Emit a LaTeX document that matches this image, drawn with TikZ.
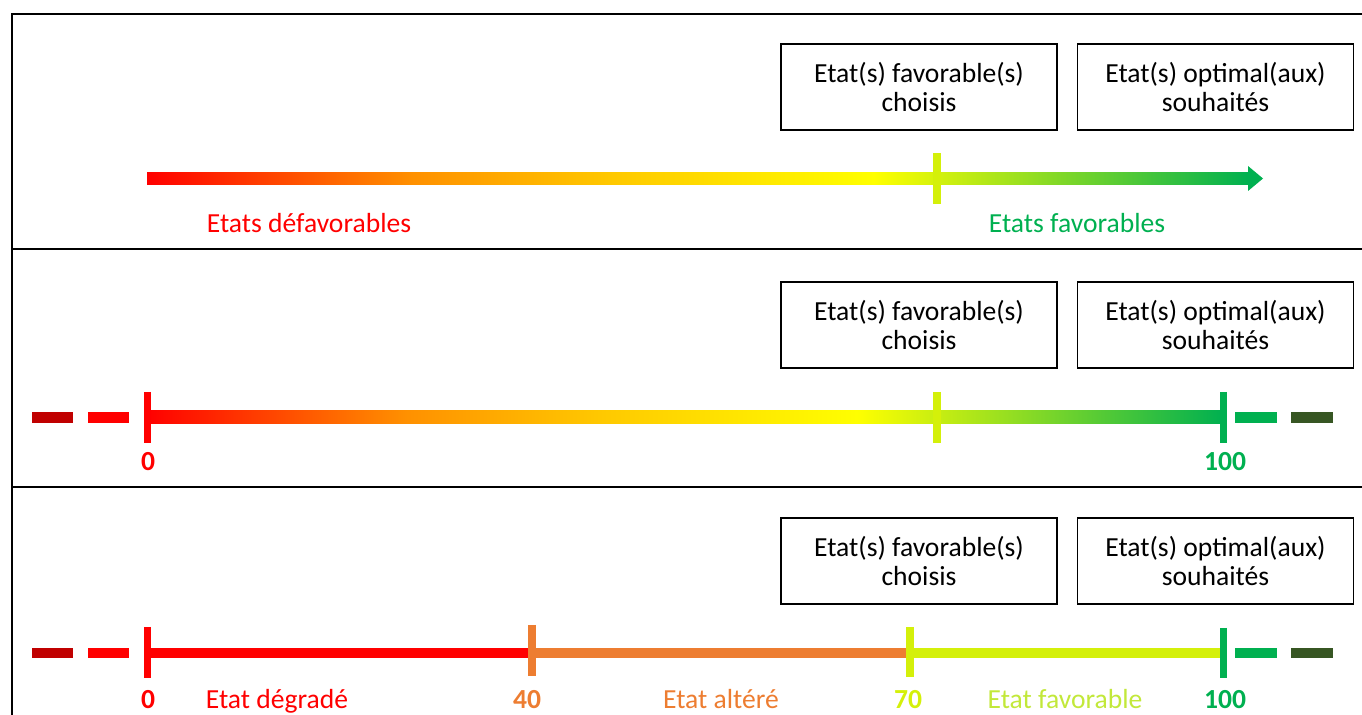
\documentclass[tikz,border=0pt]{standalone}
\usepackage{fontspec}
\setmainfont{Carlito}
\definecolor{vert}{HTML}{00B050}
\definecolor{vertfonce}{HTML}{375623}
\definecolor{rougefonce}{HTML}{C00000}
\definecolor{orangeetat}{HTML}{ED7D31}
\definecolor{jaunevert}{HTML}{D4F00A}
\definecolor{jaunevertclair}{HTML}{C2E83A}
\definecolor{orangeclair}{HTML}{FF9000}
\definecolor{jauneor}{HTML}{FFC800}
\pgfdeclarehorizontalshading{etatshade}{100bp}{color(0bp)=(red); color(25bp)=(red); color(37bp)=(orangeclair); color(46bp)=(jauneor); color(58bp)=(yellow); color(75bp)=(vert); color(100bp)=(vert)}
\tikzset{
  cadre/.style={line width=1.4pt},
  boite/.style={draw, line width=1pt, minimum width=5.52cm, minimum height=1.72cm, align=center},
  grad/.style={line width=4pt},
  tiret/.style={line width=6.2pt},
  ligne/.style={line width=5.7pt},
  etiq/.style={anchor=base, inner sep=0pt},
  nombre/.style={etiq, font=\fontsize{15.7}{17}\selectfont\bfseries}
}
\begin{document}
\begin{tikzpicture}[x=0.02cm, y=-0.02cm, font=\fontsize{15.7}{17}\selectfont]
		\useasboundingbox (0,0) rectangle (1362,715);
		\draw[cadre] (12,715) -- (12,14) -- (1362,14);
		\draw[cadre] (12,249) -- (1362,249);
		\draw[cadre] (12,487) -- (1362,487);
		\foreach \y/\n in {87/a, 325/b, 561/c} {
			\node[boite] (fav\n) at (919,\y) {Etat(s) favorable(s)\\choisis};
			\node[boite] (opt\n) at (1215.5,\y) {Etat(s) optimal(aux)\\souhaités};
		}
		% premiere ligne
		\shade[shading=etatshade] (147,172.5) rectangle (1248,185);
		\fill[vert] (1248,166) -- (1263,178.5) -- (1248,191) -- cycle;
		\draw[grad, jaunevert] (937,153) -- (937,204);
		\node[etiq, red] (defav) at (309,233) {Etats défavorables};
		\node[etiq, vert] (favs) at (1077,233) {Etats favorables};
		% deuxieme ligne
		\draw[tiret, rougefonce] (32,417.5) -- (73,417.5);
		\draw[tiret, red] (88,417.5) -- (129,417.5);
		\shade[shading=etatshade] (147,411) rectangle (1223,424);
		\draw[tiret, vert] (1235,417.5) -- (1277,417.5);
		\draw[tiret, vertfonce] (1291,417.5) -- (1333,417.5);
		\draw[grad, red] (147.5,392) -- (147.5,443);
		\draw[grad, jaunevert] (937,392) -- (937,443);
		\draw[grad, vert] (1223,392) -- (1223,443);
		\node[nombre, red] (zerob) at (148,471) {0};
		\node[nombre, vert] (centb) at (1225,471) {100};
		% troisieme ligne
		\draw[tiret, rougefonce] (32,653) -- (73,653);
		\draw[tiret, red] (88,653) -- (129,653);
		\draw[ligne, red] (147,653) -- (532,653);
		\draw[ligne, orangeetat] (532,653) -- (910,653);
		\draw[ligne, jaunevert] (910,653) -- (1223,653);
		\draw[tiret, vert] (1235,653) -- (1277,653);
		\draw[tiret, vertfonce] (1291,653) -- (1333,653);
		\draw[grad, red] (147.5,627) -- (147.5,678);
		\draw[grad, orangeetat] (532,625) -- (532,676);
		\draw[grad, jaunevert] (910,627) -- (910,677);
		\draw[grad, vert] (1223,628) -- (1223,678);
		\node[nombre, red] (zeroc) at (148,708) {0};
		\node[etiq, red] (degr) at (277,708) {Etat dégradé};
		\node[nombre, orangeetat] (quar) at (527,708) {40};
		\node[etiq, orangeetat] (alt) at (721,708) {Etat altéré};
		\node[nombre, jaunevert] (sept) at (908,708) {70};
		\node[etiq, jaunevertclair] (favc) at (1065,708) {Etat favorable};
		\node[nombre, vert] (centc) at (1225,708) {100};
\end{tikzpicture}
\end{document}
